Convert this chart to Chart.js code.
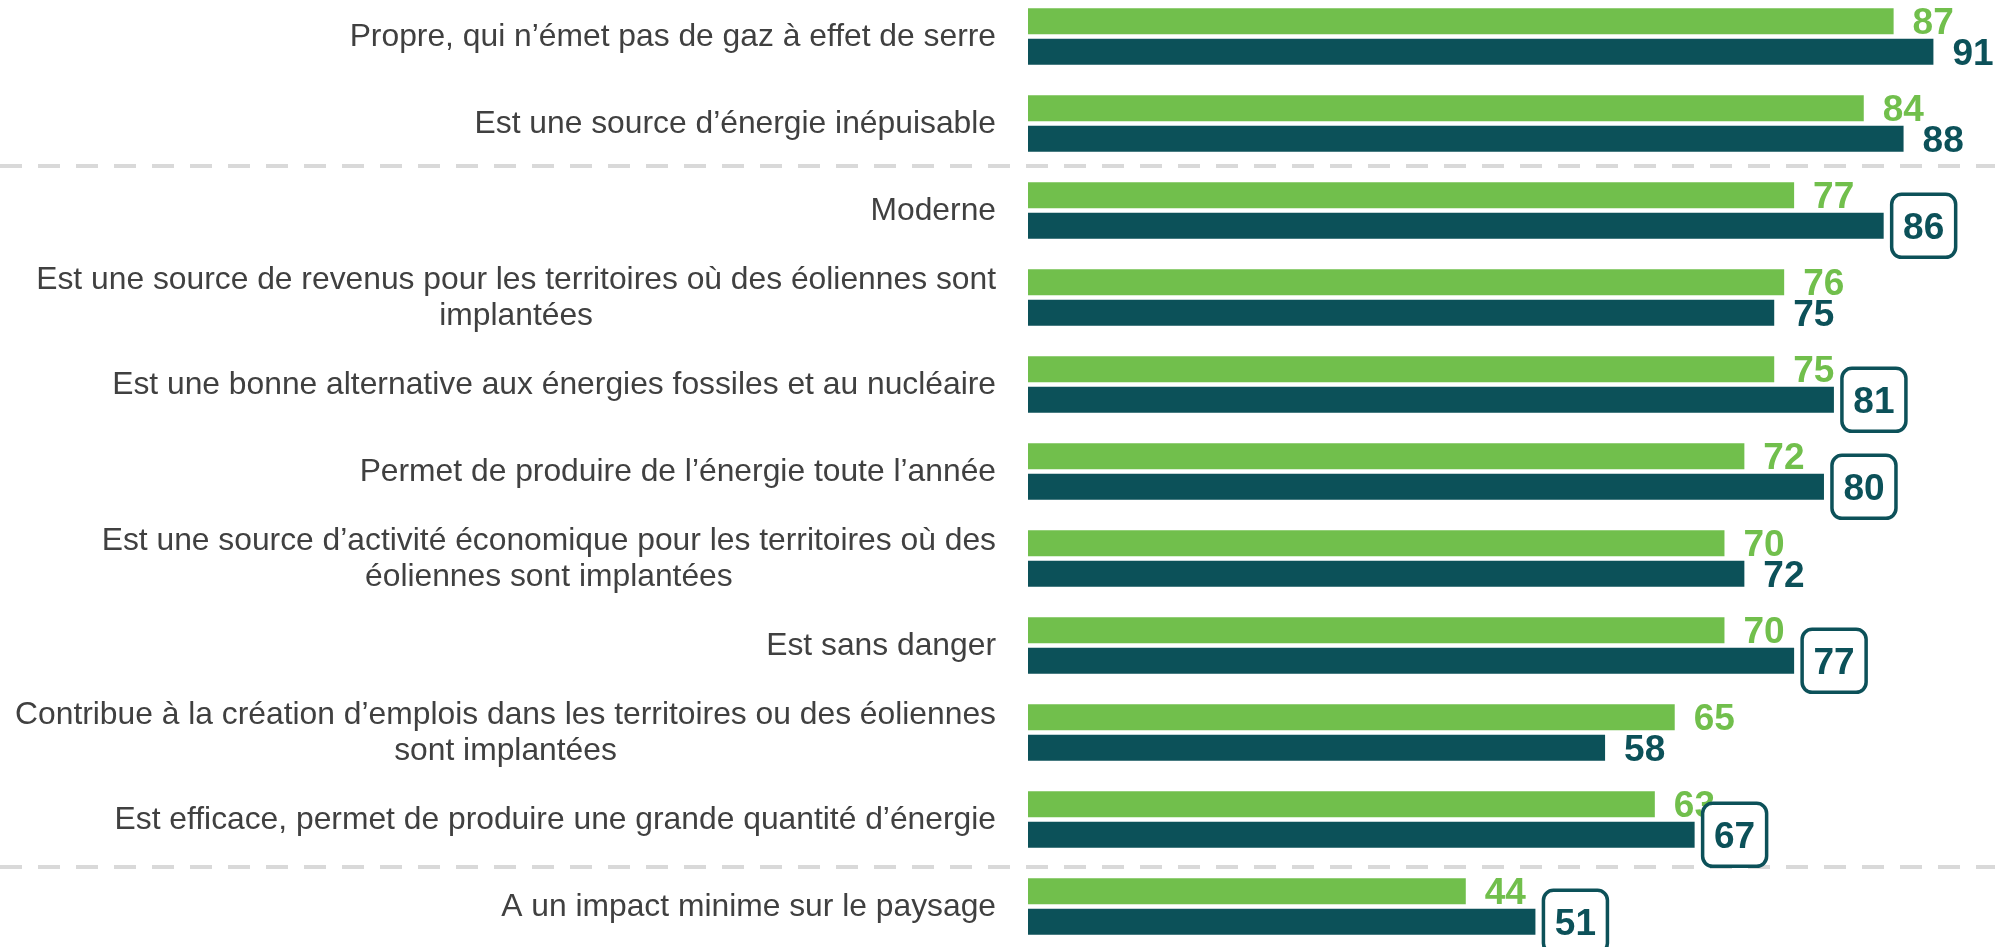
<!DOCTYPE html>
<html>
<head>
<meta charset="utf-8">
<script src="https://cdn.jsdelivr.net/npm/chart.js@4"></script>
<style>
  html, body { margin: 0; padding: 0; background: #fff; overflow: hidden; }
  #wrap { position: absolute; left: 0; top: -7px; width: 1995px; height: 957px; }
</style>
</head>
<body>
<div id="wrap"><canvas id="barChart" width="1995" height="957"></canvas></div>
<script>
// categories (multi-line ones split as they are wrapped in the picture)
const categories = [
    ['Propre, qui n’émet pas de gaz à effet de serre'],
    ['Est une source d’énergie inépuisable'],
    ['Moderne'],
    ['Est une source de revenus pour les territoires où des éoliennes sont', 'implantées'],
    ['Est une bonne alternative aux énergies fossiles et au nucléaire'],
    ['Permet de produire de l’énergie toute l’année'],
    ['Est une source d’activité économique pour les territoires où des', 'éoliennes sont implantées'],
    ['Est sans danger'],
    ['Contribue à la création d’emplois dans les territoires ou des éoliennes', 'sont implantées'],
    ['Est efficace, permet de produire une grande quantité d’énergie'],
    ['A un impact minime sur le paysage']
];

const previousValues = [87, 84, 77, 76, 75, 72, 70, 70, 65, 63, 44];
const currentValues = [91, 88, 86, 75, 81, 80, 72, 77, 58, 67, 51];
// significant change -> value drawn in a rounded box
const significant = [false, false, true, false, true, true, false, true, false, true, true];
// a dashed separator is drawn before these rows
const groupBreaks = [2, 10];

const GREEN = '#71BF4C';
const TEAL = '#0C5159';
const TEXT = '#404040';

const ctx = document.getElementById('barChart').getContext('2d');

const labelsPlugin = {
    id: 'labelsPlugin',
    beforeDatasetsDraw(chart) {
        const c = chart.ctx;
        const y = chart.scales.y;
        const nudge = [-1, 4]; // separators were placed by hand in the original
        c.save();
        c.strokeStyle = '#D9D9D9';
        c.lineWidth = 4;
        c.setLineDash([22, 16]);
        groupBreaks.forEach((i, k) => {
            const py = Math.round((y.getPixelForValue(i - 1) + y.getPixelForValue(i)) / 2) + nudge[k];
            c.beginPath();
            c.moveTo(0, py);
            c.lineTo(chart.width, py);
            c.stroke();
        });
        c.restore();
    },
    afterDatasetsDraw(chart) {
        const c = chart.ctx;
        const area = chart.chartArea;
        const y = chart.scales.y;
        c.save();

        // category labels, block right aligned, lines centred in the block
        c.font = '31.8px "Liberation Sans", Arial, sans-serif';
        c.fillStyle = TEXT;
        c.textAlign = 'center';
        c.textBaseline = 'middle';
        const right = area.left - 32;
        const lineH = 36;
        categories.forEach((lines, i) => {
            const w = Math.max(...lines.map(l => c.measureText(l).width));
            const cx = right - w / 2;
            const cy = y.getPixelForValue(i);
            const top = cy - (lines.length - 1) * lineH / 2;
            lines.forEach((l, k) => c.fillText(l, cx, top + k * lineH + 1));
        });

        // value labels
        c.font = 'bold 37px "Liberation Sans", Arial, sans-serif';
        c.textBaseline = 'alphabetic';
        const capHalf = 13;
        const prevMeta = chart.getDatasetMeta(0);
        const curMeta = chart.getDatasetMeta(1);

        prevMeta.data.forEach((bar, i) => {
            c.fillStyle = GREEN;
            c.textAlign = 'left';
            c.fillText(previousValues[i], bar.x + 19, bar.y + capHalf);
        });

        curMeta.data.forEach((bar, i) => {
            const txt = String(currentValues[i]);
            if (significant[i]) {
                const bw = 64, bh = 63;
                const bx = bar.x + 8;
                const by = bar.y - bh / 2;
                c.fillStyle = '#fff';
                c.strokeStyle = TEAL;
                c.lineWidth = 3.5;
                c.beginPath();
                c.roundRect(bx, by, bw, bh, 10);
                c.fill();
                c.stroke();
                c.fillStyle = TEAL;
                c.textAlign = 'center';
                c.fillText(txt, bx + bw / 2, bar.y + capHalf);
            } else {
                c.fillStyle = TEAL;
                c.textAlign = 'left';
                c.fillText(txt, bar.x + 19, bar.y + capHalf);
            }
        });
        c.restore();
    }
};

const chart = new Chart(ctx, {
    type: 'bar',
    data: {
        labels: categories,
        datasets: [{
            label: 'Précédent',
            data: previousValues,
            backgroundColor: GREEN,
            categoryPercentage: 0.706,
            barPercentage: 0.847
        }, {
            label: 'Actuel',
            data: currentValues,
            backgroundColor: TEAL,
            categoryPercentage: 0.706,
            barPercentage: 0.847
        }]
    },
    options: {
        indexAxis: 'y',
        responsive: false,
        animation: false,
        devicePixelRatio: 1,
        layout: { padding: { left: 1028, right: 0, top: 0, bottom: 0 } },
        plugins: {
            legend: { display: false },
            tooltip: { enabled: false }
        },
        scales: {
            x: { display: false, min: 0, max: 97.19 },
            y: { display: false }
        }
    },
    plugins: [labelsPlugin]
});
</script>
</body>
</html>
